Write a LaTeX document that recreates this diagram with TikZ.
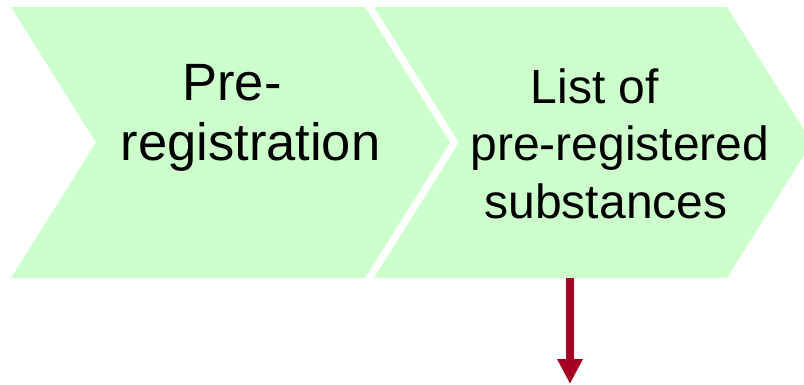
\documentclass[tikz,border=0pt]{standalone}
\usepackage{fontspec}
\setmainfont{Liberation Sans}
\usetikzlibrary{arrows.meta}
\definecolor{chevgreen}{HTML}{CCFFCC}
\definecolor{arrowred}{HTML}{A50021}
\tikzset{
  chevron/.style={fill=chevgreen, draw=none},
  bigtxt/.style={anchor=base, inner sep=0pt, font=\fontsize{52.5}{60}\selectfont},
  smalltxt/.style={anchor=base, inner sep=0pt, font=\fontsize{48}{57}\selectfont},
  downarrow/.style={draw=arrowred, line width=8pt, -{Triangle[width=24pt,length=25pt]}, fill=arrowred}
}
\begin{document}
\begin{tikzpicture}[x=1pt,y=-1pt]
\useasboundingbox (0,0) rectangle (804,384);
\path[chevron] (11,7) -- (365,7) -- (450,142.5) -- (365,278) -- (11,278) -- (96,142.5) -- cycle;
\path[chevron] (374,7) -- (727,7) -- (812,142.5) -- (727,278) -- (374,278) -- (459,142.5) -- cycle;
\node[bigtxt] (t1a) at (232,100) {Pre-};
\node[bigtxt] (t1b) at (250.5,160) {registration};
\node[smalltxt] (t2a) at (595,103) {List of};
\node[smalltxt] (t2b) at (620,160) {pre-registered};
\node[smalltxt] (t2c) at (606,218) {substances};
\coordinate (a1) at (570,278);
\coordinate (a2) at (570,384);
\draw[downarrow] (a1) -- (a2);
\end{tikzpicture}
\end{document}
